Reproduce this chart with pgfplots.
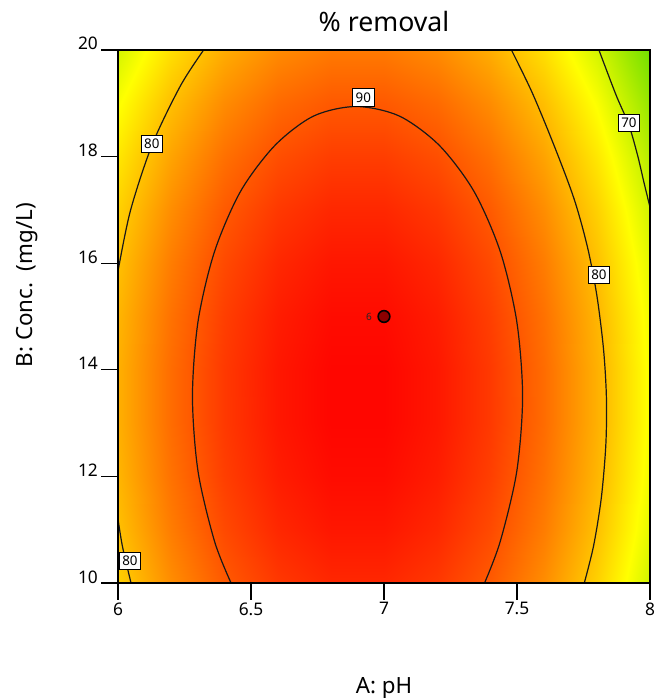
\documentclass[border=0pt]{standalone}
\usepackage{pgfplots}
\pgfplotsset{compat=1.18}
\usepackage{fontspec}
\setmainfont{Noto Sans}
\setsansfont{Noto Sans}

\pgfplotsset{
  colormap={removal}{
    rgb255(0cm)=(60,215,0)
    rgb255(8cm)=(155,232,0)
    rgb255(16cm)=(255,255,0)
    rgb255(24cm)=(255,170,0)
    rgb255(32cm)=(255,85,0)
    rgb255(40cm)=(255,0,0)
  },
}
\tikzset{
  clabel/.style={draw=black, line width=0.5pt, fill=white, inner xsep=2.4pt, inner ysep=2.8pt,
    font=\fontsize{10}{11}\selectfont, anchor=center},
  contour/.style={black!90, line width=0.9pt, smooth},
}

\begin{document}
\begin{tikzpicture}
\useasboundingbox (-88.5pt,-86.25pt) rectangle (402.75pt,437.25pt);
\begin{axis}[
  at={(0,0)}, anchor=south west,
  scale only axis, width=399pt, height=399.75pt,
  xmin=6, xmax=8, ymin=10, ymax=20,
  xtick={6,6.5,7,7.5,8}, ytick={10,12,14,16,18,20},
  xtick pos=left, ytick pos=left,
  tick align=outside, major tick length=12.4pt,
  every tick/.style={black, line width=0.9pt},
  axis line style={line width=0.8pt},
  axis on top,
  /pgf/number format/assume math mode=true,
  tick label style={font=\fontsize{13}{15}\selectfont},
  xticklabel style={anchor=north, inner sep=2pt},
  yticklabel style={anchor=base east, inner sep=2.5pt},
  colormap name=removal,
  point meta min=58, point meta max=98,
  title={\% removal},
  title style={at={(0.5,1)}, anchor=base, yshift=7.5pt, font=\fontsize{20}{24}\selectfont},
  xlabel={A: pH},
  xlabel style={at={(axis description cs:0.5,0)}, anchor=base, yshift=-82.5pt, font=\fontsize{16.75}{20}\selectfont},
  ylabel={B: Conc.\ \ (mg/L)},
  ylabel style={at={(axis description cs:-0.171,0.559)}, anchor=center, font=\fontsize{16.75}{20}\selectfont},
]

% response surface of % removal over the pH / concentration grid
\addplot[surf, shader=interp, mesh/cols=11, point meta=explicit]
  table[row sep=\\, x=x, y=y, meta=f] {
  x y f \\
  6.0 10 78.32\\ 6.2 10 84.72\\ 6.4 10 89.52\\ 6.6 10 92.72\\ 6.8 10 94.32\\ 7.0 10 94.32\\ 7.2 10 92.72\\ 7.4 10 89.52\\ 7.6 10 84.72\\ 7.8 10 78.32\\ 8.0 10 70.32\\
  6.0 11 79.88\\ 6.2 11 86.28\\ 6.4 11 91.08\\ 6.6 11 94.28\\ 6.8 11 95.88\\ 7.0 11 95.88\\ 7.2 11 94.28\\ 7.4 11 91.08\\ 7.6 11 86.28\\ 7.8 11 79.88\\ 8.0 11 71.88\\
  6.0 12 80.92\\ 6.2 12 87.32\\ 6.4 12 92.12\\ 6.6 12 95.32\\ 6.8 12 96.92\\ 7.0 12 96.92\\ 7.2 12 95.32\\ 7.4 12 92.12\\ 7.6 12 87.32\\ 7.8 12 80.92\\ 8.0 12 72.92\\
  6.0 13 81.44\\ 6.2 13 87.84\\ 6.4 13 92.64\\ 6.6 13 95.84\\ 6.8 13 97.44\\ 7.0 13 97.44\\ 7.2 13 95.84\\ 7.4 13 92.64\\ 7.6 13 87.84\\ 7.8 13 81.44\\ 8.0 13 73.44\\
  6.0 14 81.44\\ 6.2 14 87.84\\ 6.4 14 92.64\\ 6.6 14 95.84\\ 6.8 14 97.44\\ 7.0 14 97.44\\ 7.2 14 95.84\\ 7.4 14 92.64\\ 7.6 14 87.84\\ 7.8 14 81.44\\ 8.0 14 73.44\\
  6.0 15 80.92\\ 6.2 15 87.32\\ 6.4 15 92.12\\ 6.6 15 95.32\\ 6.8 15 96.92\\ 7.0 15 96.92\\ 7.2 15 95.32\\ 7.4 15 92.12\\ 7.6 15 87.32\\ 7.8 15 80.92\\ 8.0 15 72.92\\
  6.0 16 79.88\\ 6.2 16 86.28\\ 6.4 16 91.08\\ 6.6 16 94.28\\ 6.8 16 95.88\\ 7.0 16 95.88\\ 7.2 16 94.28\\ 7.4 16 91.08\\ 7.6 16 86.28\\ 7.8 16 79.88\\ 8.0 16 71.88\\
  6.0 17 78.32\\ 6.2 17 84.72\\ 6.4 17 89.52\\ 6.6 17 92.72\\ 6.8 17 94.32\\ 7.0 17 94.32\\ 7.2 17 92.72\\ 7.4 17 89.52\\ 7.6 17 84.72\\ 7.8 17 78.32\\ 8.0 17 70.32\\
  6.0 18 76.24\\ 6.2 18 82.64\\ 6.4 18 87.44\\ 6.6 18 90.64\\ 6.8 18 92.24\\ 7.0 18 92.24\\ 7.2 18 90.64\\ 7.4 18 87.44\\ 7.6 18 82.64\\ 7.8 18 76.24\\ 8.0 18 68.24\\
  6.0 19 73.64\\ 6.2 19 80.04\\ 6.4 19 84.84\\ 6.6 19 88.04\\ 6.8 19 89.64\\ 7.0 19 89.64\\ 7.2 19 88.04\\ 7.4 19 84.84\\ 7.6 19 80.04\\ 7.8 19 73.64\\ 8.0 19 65.64\\
  6.0 20 70.52\\ 6.2 20 76.92\\ 6.4 20 81.72\\ 6.6 20 84.92\\ 6.8 20 86.52\\ 7.0 20 86.52\\ 7.2 20 84.92\\ 7.4 20 81.72\\ 7.6 20 76.92\\ 7.8 20 70.52\\ 8.0 20 62.52\\
};

% contour 90
\addplot[contour] coordinates {
  (6.425,10) (6.363,10.78) (6.301,12.09) (6.280,13.5) (6.301,14.91) (6.363,16.22)
  (6.461,17.35) (6.590,18.21) (6.735,18.76) (6.895,18.94) (7.058,18.76) (7.208,18.21)
  (7.338,17.35) (7.437,16.22) (7.499,14.91) (7.521,13.5) (7.499,12.09) (7.437,10.78) (7.378,10)
};
% contour 80, upper left
\addplot[contour] coordinates {
  (6.322,20) (6.235,19.33) (6.129,18.23) (6.047,16.99) (6.0,15.85)
};
% contour 80, lower left
\addplot[contour] coordinates {
  (6.0,11.2) (6.017,10.68) (6.049,10)
};
% contour 80, right
\addplot[contour] coordinates {
  (7.479,20) (7.557,19.2) (7.640,18.2) (7.715,17.2) (7.765,16.3) (7.800,15.4)
  (7.825,14.4) (7.836,13.5) (7.834,12.6) (7.817,11.6) (7.788,10.7) (7.753,10)
};
% contour 70
\addplot[contour] coordinates {
  (7.808,20) (7.872,19.16) (7.920,18.6) (7.953,18.03) (7.978,17.5) (8.0,17.05)
};

% design point (centre, 6 replicates)
\addplot[only marks, mark=*, mark size=4.4pt,
  mark options={fill=red!55!black, draw=black, line width=1.2pt}] coordinates {(7,15)};

\node[font=\fontsize{7.5}{8}\selectfont, text=black!85] at (axis cs:6.944,15) {6};

\node[clabel] at (axis cs:6.922,19.11) {90};
\node[clabel] at (axis cs:6.127,18.24) {80};
\node[clabel] at (axis cs:7.921,18.64) {70};
\node[clabel] at (axis cs:7.808,15.78) {80};
\node[clabel] at (axis cs:6.045,10.41) {80};

\end{axis}
\end{tikzpicture}
\end{document}
